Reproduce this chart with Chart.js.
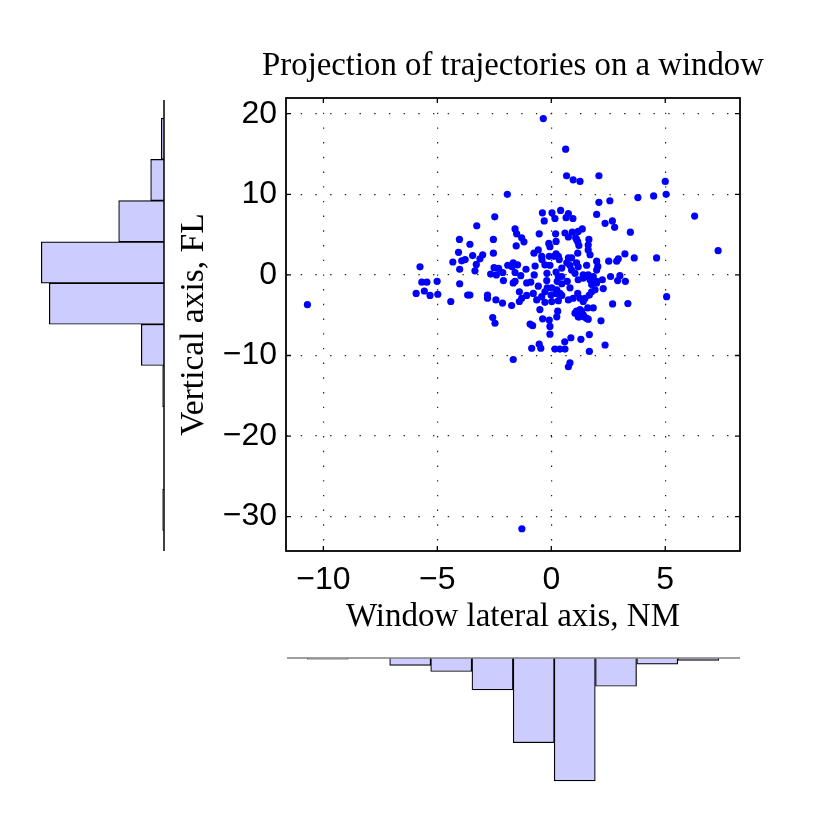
<!DOCTYPE html>
<html>
<head>
  <meta charset="UTF-8">
  <title>Projection of trajectories on a window</title>
  <script src="https://cdn.jsdelivr.net/npm/chart.js"></script>
  <style>
    html, body { margin: 0; padding: 0; background: #fff; }
    #wrap { position: relative; width: 822px; height: 822px; }
    #wrap canvas { position: absolute; left: 0; top: 0; }
    #title {
      position: absolute;
      left: 213px;
      top: 44px;
      width: 600px;
      height: 40px;
      line-height: 40px;
      text-align: center;
      font-family: 'Liberation Serif', serif;
      font-size: 32.8px;
      color: #000;
      white-space: nowrap;
      z-index: 5;
    }
  </style>
</head>
<body>
  <div id="wrap">
    <canvas id="main" width="822" height="822"></canvas>
    <canvas id="histY" width="822" height="822"></canvas>
    <canvas id="histX" width="822" height="822"></canvas>
    <div id="title">Projection of trajectories on a window</div>
  </div>

  <script>
    // window lateral axis (NM) and vertical axis (FL) of each trajectory
    const lateral = [
      -10.7, -0.35, -1.29, 7.32, 6.29, 5.06, 5.0, 5.04, 4.49, 3.8,
      4.62, 0.63, 0.67, 0.96, 1.26, 2.09, -1.93, -2.48, -3.27, -0.39,
      0.03, 0.16, -0.31, -1.59, -1.52, -1.3, -0.53, -4.03, -2.54, 2.09,
      2.57, 1.99, 2.68, 2.36, 2.78, 3.47, 0.41, 0.75, 0.65, 0.95,
      0.19, 0.6, 0.75, 0.92, 1.18, 1.36, 1.11, 1.65, -1.2, -3.57,
      -1.54, -0.11, -0.06, -2.54, -3.45, -3.01, -3.13, -3.29, -3.35, -0.76,
      -0.57, -0.42, -0.41, -0.09, 0.12, 0.31, -0.28, -0.06, -0.71, -1.11,
      -1.91, -1.67, -1.72, -1.59, -2.51, -2.31, -2.66, -2.41, -2.13, -1.34,
      -0.75, -0.19, 0.21, 1.07, 1.16, 1.21, 1.62, 1.62, 1.7, 0.21,
      0.21, 0.35, 0.75, 0.89, 1.16, 0.68, 0.82, 1.11, 1.18, 1.55,
      1.99, 2.04, 0.46, 0.46, 0.89, 1.04, 1.4, 1.62, 1.84, 2.52,
      2.87, 2.94, 3.23, 3.64, 2.6, 3.01, 2.91, 3.25, 2.69, 3.36,
      2.18, 1.67, 2.36, 1.67, 1.3, 0.86, 0.59, 0.16, 0.38, 0.6,
      0.82, 0.75, 1.99, 2.24, 2.28, 1.99, 1.77, 1.67, 1.48, 1.84,
      1.6, 1.62, 1.4, 1.23, 1.11, 1.26, 0.31, 0.7, 0.82, 0.46,
      0.24, 0.38, 0.46, 0.75, 0.96, 1.16, 1.26, 1.4, 1.77, 1.92,
      1.18, 1.4, 1.55, 1.7, 1.99, 0.28, 0.24, 1.04, 1.18, 1.33,
      1.45, 1.55, -2.1, -1.67, -0.9, -0.57, -0.2, 0.02, 0.26, -3.57,
      -2.8, -2.8, -2.43, -2.14, -1.74, -1.4, -1.3, -1.4, -1.08, -0.79,
      -0.64, -0.42, -0.28, -0.18, -0.01, 0.21, 0.31, 0.02, -0.28, -0.5,
      -0.38, -0.09, -0.06, -0.93, -0.82, -0.06, -2.57, -2.47, -0.86, -0.53,
      -0.46, -1.67, -5.76, -5.68, -5.46, -5.93, -5.57, -5.32, -5.01, -4.98,
      -4.41, -4.07, -3.93, -3.78, -4.32, -4.02, -4.02, -3.67, -1.48,
      -1.59, -1.08
    ];
    const vertical = [
      -3.7, 19.4, -31.5, 3.0, 7.3, -2.7, 11.6, 10.0, 9.8, 9.6,
      2.1, 15.6, 12.3, 11.8, 11.6, 12.3, 10.0, 7.2, 6.1, 7.7,
      7.7, 7.0, 6.7, 5.7, 5.1, 4.6, 5.1, 4.4, 4.4, 9.0,
      9.2, 7.5, 6.7, 6.4, 5.9, 5.3, 8.0, 7.6, 7.1, 7.0,
      5.1, 5.2, 4.7, 5.3, 5.4, 5.7, 4.4, 4.4, 4.1, 3.8,
      3.6, 3.9, 3.5, 2.7, 2.4, 2.5, 2.0, 1.3, 0.5, 2.7,
      3.1, 2.3, 1.9, 2.3, 2.3, 2.3, 1.25, 1.2, 1.1, 0.7,
      1.2, 1.5, 1.0, 0.3, 0.9, 0.8, 0.1, 0.0, 0.3, -0.1,
      0.0, 0.2, 0.35, 4.6, 4.1, 3.65, 3.7, 3.1, 2.5, 4.15,
      2.6, 1.9, 2.1, 2.1, 2.7, 1.5, 1.2, 1.5, 1.0, 1.2,
      1.7, 1.05, 0.85, -0.2, 0.6, 0.2, 0.0, 0.0, -0.2, 1.7,
      1.7, 2.0, 2.6, 2.1, -0.2, -0.1, -0.7, -0.8, -3.6, -3.55,
      -5.7, -7.4, -8.7, -9.5, -8.0, -7.8, -8.3, -9.2, -9.2, -9.2,
      -10.9, -11.4, 0.6, -0.6, -1.7, -1.0, -2.1, -2.5, -2.9, -4.1,
      -4.1, -5.5, -4.95, -5.2, -4.5, -4.3, -0.2, -0.8, -1.6, -1.1,
      -1.85, -2.3, -2.55, -3.1, -2.9, -2.3, -2.9, -3.3, -1.2, -1.85,
      -0.6, -0.4, -0.2, -0.6, -0.8, -4.5, -5.2, -4.75, -5.2, -4.5,
      -5.2, -5.4, -0.7, -1.0, -0.9, -1.4, -0.7, -1.6, -0.8, -2.5,
      -2.5, -2.9, -3.1, -3.5, -3.8, -2.1, -2.9, -3.3, -2.55, -2.3,
      -3.1, -2.7, -2.1, -1.6, -2.5, -2.3, -3.2, -3.3, -3.4, -4.3,
      -5.45, -5.6, -6.4, -6.1, -6.3, -7.35, -5.3, -6.0, -9.1, -8.6,
      -9.1, -10.5, 1.0, -0.9, -0.9, -2.3, -2.0, -2.55, -0.8, -2.4,
      -3.3, 2.8, 1.75, 1.9, 1.6, 0.7, -1.1, -2.5, 1.25,
      -0.8, -1.0
    ];

    const xTicks = [-10, -5, 0, 5];
    const yTicks = [-30, -20, -10, 0, 10, 20];
    const xLim = [-11.64, 8.28];
    const yLim = [-34.26, 21.95];

    // marginal histograms (10 bins each)
    const xBinCenters = [-9.81, -8.0, -6.19, -4.39, -2.58, -0.77, 1.03, 2.84, 4.65, 6.45];
    const xBinCounts = [1, 0, 6, 11, 26, 69, 100, 23, 5, 2];
    const yBinCenters = [-29.14, -24.03, -18.91, -13.8, -8.69, -3.57, 1.54, 6.66, 11.77, 16.89];
    const yBinCounts = [1, 0, 0, 1, 17, 86, 92, 34, 10, 2];

    const fmt = v => v < 0 ? '\u2212' + Math.abs(v) : String(v);

    const framePlugin = {
      id: 'frame',
      afterDraw(chart) {
        const { ctx, chartArea: a, scales: { x, y } } = chart;
        ctx.save();
        ctx.strokeStyle = '#000';
        ctx.lineWidth = 1.8;
        ctx.strokeRect(a.left, a.top, a.right - a.left, a.bottom - a.top);
        ctx.lineWidth = 1.3;
        ctx.beginPath();
        xTicks.forEach(v => {
          const px = x.getPixelForValue(v);
          ctx.moveTo(px, a.bottom); ctx.lineTo(px, a.bottom - 5);
          ctx.moveTo(px, a.top); ctx.lineTo(px, a.top + 5);
        });
        yTicks.forEach(v => {
          const py = y.getPixelForValue(v);
          ctx.moveTo(a.left, py); ctx.lineTo(a.left + 5, py);
          ctx.moveTo(a.right, py); ctx.lineTo(a.right - 5, py);
        });
        ctx.stroke();
        ctx.restore();
      }
    };

    new Chart(document.getElementById('main'), {
      type: 'scatter',
      data: {
        datasets: [{
          data: lateral.map((x, i) => ({ x: x, y: vertical[i] })),
          backgroundColor: '#0000ff',
          borderWidth: 0,
          pointRadius: 3.6,
          pointHoverRadius: 3.6
        }]
      },
      options: {
        responsive: false,
        animation: false,
        devicePixelRatio: 1,
        events: [],
        layout: { padding: { left: 0, top: 98, right: 82, bottom: 0 } },
        plugins: {
          legend: { display: false },
          tooltip: { enabled: false },
          title: { display: false }
        },
        scales: {
          x: {
            type: 'linear',
            min: xLim[0],
            max: xLim[1],
            afterBuildTicks: s => { s.ticks = xTicks.map(v => ({ value: v })); },
            afterFit: s => { s.height = 271; },
            grid: { color: '#222', lineWidth: 1.2, drawTicks: false },
            border: { display: false, dash: [1.4, 13.3] },
            ticks: {
              color: '#000',
              padding: 10,
              maxRotation: 0,
              font: { family: 'Liberation Sans', size: 32 },
              callback: fmt
            },
            title: {
              display: true,
              text: 'Window lateral axis, NM',
              color: '#000',
              font: { family: 'Liberation Serif', size: 33, lineHeight: 1.2 },
              padding: { top: 0, bottom: 185 }
            }
          },
          y: {
            type: 'linear',
            min: yLim[0],
            max: yLim[1],
            afterBuildTicks: s => { s.ticks = yTicks.map(v => ({ value: v })); },
            afterFit: s => { s.width = 286; },
            grid: { color: '#222', lineWidth: 1.2, drawTicks: false },
            border: { display: false, dash: [1.4, 13.3] },
            ticks: {
              color: '#000',
              padding: 9,
              font: { family: 'Liberation Sans', size: 32 },
              callback: fmt
            },
            title: {
              display: true,
              text: 'Vertical axis, FL',
              color: '#000',
              font: { family: 'Liberation Serif', size: 33.5, lineHeight: 1.2 },
              padding: { top: 174, bottom: 0 }
            }
          }
        }
      },
      plugins: [framePlugin]
    });

    // left histogram: bars grow leftwards from a vertical baseline
    new Chart(document.getElementById('histY'), {
      type: 'bar',
      data: {
        datasets: [{
          data: yBinCenters.map((c, i) => ({ x: yBinCounts[i], y: c })),
          backgroundColor: '#ccccff',
          borderColor: '#000',
          borderWidth: 1.2,
          barPercentage: 1,
          categoryPercentage: 1,
          clip: false
        }]
      },
      options: {
        indexAxis: 'y',
        responsive: false,
        animation: false,
        devicePixelRatio: 1,
        events: [],
        layout: { padding: { left: 20, right: 658, top: 98, bottom: 271 } },
        plugins: { legend: { display: false }, tooltip: { enabled: false } },
        scales: {
          y: {
            type: 'linear', min: yLim[0], max: yLim[1], offset: false, display: false,
            afterBuildTicks: s => { s.ticks = yBinCenters.map(v => ({ value: v })); }
          },
          x: { type: 'linear', min: 0, max: 108, reverse: true, display: false }
        }
      },
      plugins: [{
        id: 'baseY',
        afterDraw(chart) {
          const { ctx, chartArea: a } = chart;
          ctx.save();
          ctx.strokeStyle = '#000';
          ctx.lineWidth = 1.5;
          ctx.beginPath();
          ctx.moveTo(a.right, a.top + 2);
          ctx.lineTo(a.right, a.bottom);
          ctx.stroke();
          ctx.restore();
        }
      }]
    });

    // bottom histogram: bars hang down from a horizontal baseline
    new Chart(document.getElementById('histX'), {
      type: 'bar',
      data: {
        datasets: [{
          data: xBinCenters.map((c, i) => ({ x: c, y: xBinCounts[i] })),
          backgroundColor: '#ccccff',
          borderColor: '#000',
          borderWidth: 1.2,
          barPercentage: 1,
          categoryPercentage: 1,
          clip: false
        }]
      },
      options: {
        responsive: false,
        animation: false,
        devicePixelRatio: 1,
        events: [],
        layout: { padding: { left: 286, right: 82, top: 658, bottom: 24 } },
        plugins: { legend: { display: false }, tooltip: { enabled: false } },
        scales: {
          x: {
            type: 'linear', min: xLim[0], max: xLim[1], offset: false, display: false,
            afterBuildTicks: s => { s.ticks = xBinCenters.map(v => ({ value: v })); }
          },
          y: { type: 'linear', min: 0, max: 114, reverse: true, display: false }
        }
      },
      plugins: [{
        id: 'baseX',
        afterDraw(chart) {
          const { ctx, chartArea: a } = chart;
          ctx.save();
          ctx.strokeStyle = '#808080';
          ctx.lineWidth = 1.5;
          ctx.beginPath();
          ctx.moveTo(a.left + 1, a.top);
          ctx.lineTo(a.right, a.top);
          ctx.stroke();
          ctx.restore();
        }
      }]
    });
  </script>
</body>
</html>
